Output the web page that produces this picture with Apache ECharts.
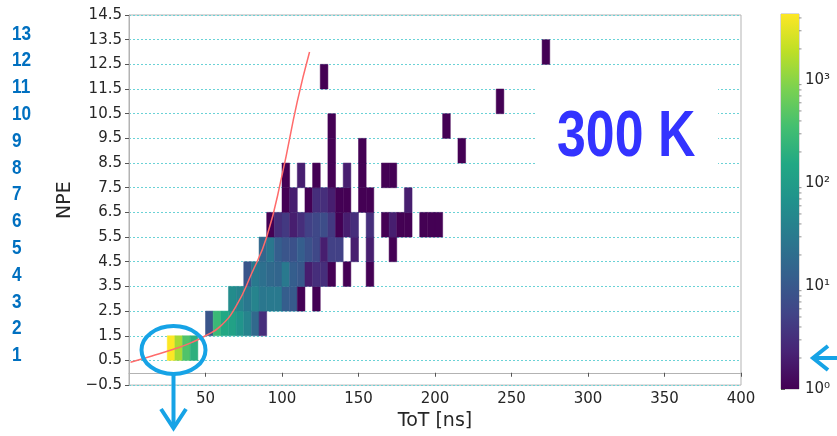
<!DOCTYPE html>
<html><head><meta charset="utf-8">
<script src="https://cdn.jsdelivr.net/npm/echarts@6/dist/echarts.min.js"></script>
<style>html,body{margin:0;padding:0;background:#fff}#c{width:837px;height:436px}</style>
</head><body><div id="c"></div>
<script>
// ---- data: [binStart (ns), counts] per NPE row, bin width 5 ns ----
const binWidth = 5;
const npe1  = [[25,4300],[30,1400],[35,420],[40,200]];
const npe2  = [[50,9],[55,280],[60,150],[65,120],[70,75],[75,43],[80,17],[85,3]];
const npe3  = [[65,55],[70,43],[75,28],[80,43],[85,28],[90,30],[95,30],[100,12],[105,11],[110,1],[120,1]];
const npe4  = [[75,9],[80,30],[85,22],[90,17],[95,15],[100,30],[105,12],[110,10],[115,2],[120,3],[125,3],[130,1],[140,1],[155,1]];
const npe5  = [[85,16],[90,28],[95,12],[100,9],[105,8],[110,12],[115,8],[120,6],[125,2],[130,5],[135,5],[145,2],[155,2],[170,1]];
const npe6  = [[90,1],[95,3],[100,4],[105,2],[110,3],[115,5],[120,6],[125,7],[130,4],[135,1],[140,2],[145,3],[155,3],[165,1],[170,2],[175,1],[180,1],[190,1],[195,1],[200,1]];
const npe7  = [[100,1],[105,2],[115,1],[120,3],[125,3],[130,2],[135,1],[140,1],[150,1],[155,1],[180,2]];
const npe8  = [[100,1],[110,2],[120,1],[130,1],[140,2],[150,1],[165,1],[170,1]];
const npe9  = [[130,1],[150,1],[215,1]];
const npe10 = [[130,1],[205,1]];
const npe11 = [[240,1]];
const npe12 = [[125,1]];
const npe13 = [[270,1]];
const npeRows = [npe1,npe2,npe3,npe4,npe5,npe6,npe7,npe8,npe9,npe10,npe11,npe12,npe13];

// red curve
const curveX = [1, 15, 30, 40, 50, 60, 70, 80, 90, 100, 110, 118];
const curveY = [0.43, 0.68, 0.97, 1.2, 1.5, 1.9, 2.7, 4.0, 5.5, 8.0, 11.0, 13.0];

// ticks
const xTicks = [50,100,150,200,250,300,350,400];
const yTicks = [-0.5,0.5,1.5,2.5,3.5,4.5,5.5,6.5,7.5,8.5,9.5,10.5,11.5,12.5,13.5,14.5];
const cbMax = 4365;
const cbMajor = [1,10,100,1000];
const cbMinor = [2,3,4,5,6,7,8,9,20,30,40,50,60,70,80,90,200,300,400,500,600,700,800,900,2000,3000,4000];
const sideLabels = ['1','2','3','4','5','6','7','8','9','10','11','12','13'];

const viridis = ['#440154','#482475','#414487','#355f8d','#2a788e','#21918c','#22a884','#44bf70','#7ad151','#bddf26','#fde725'];

// ---- build ----
const cells = [];
npeRows.forEach((r, i) => r.forEach(([x, c]) => cells.push([x, x + binWidth, i + 1, c, Math.log10(c)])));
const curve = curveX.map((x, i) => [x, curveY[i]]);
const cbTop = Math.log10(cbMax);
const sup = {0:'\u2070',1:'\u00b9',2:'\u00b2',3:'\u00b3'};
const txt = '#262626';
const font = 'DejaVu Sans';
const annBlue = '#0070c0';
const arrowBlue = '#16a3e6';

const chart = echarts.init(document.getElementById('c'), null, {renderer:'canvas'});
const gridColor = '#b3b3b3';

const graphic = [
  {type:'rect', z:1, shape:{x:536, y:70, width:182, height:116}, style:{fill:'#ffffff'}},
  {type:'text', z:10, x:557, y:138, scaleX:0.81, style:{text:'300 K', fill:'#3333ff', font:'bold 64px "Liberation Sans"', textAlign:'left', textVerticalAlign:'middle', align:'left', verticalAlign:'middle'}},
  {type:'ellipse', z:10, shape:{cx:173.5, cy:350, rx:32, ry:24}, style:{fill:'none', stroke:arrowBlue, lineWidth:4}},
  {type:'line', z:10, shape:{x1:173.5, y1:374, x2:173.5, y2:428}, style:{stroke:arrowBlue, lineWidth:4}},
  {type:'polyline', z:10, shape:{points:[[161,409],[173.5,428],[186,409]]}, style:{fill:'none', stroke:arrowBlue, lineWidth:4, lineJoin:'miter'}},
  {type:'polyline', z:10, shape:{points:[[828,346],[813,358],[828,370]]}, style:{fill:'none', stroke:arrowBlue, lineWidth:4}},
  {type:'line', z:10, shape:{x1:813, y1:358, x2:837, y2:358}, style:{stroke:arrowBlue, lineWidth:4}}
];
sideLabels.forEach((s, i) => {
  graphic.push({type:'text', z:10, x:12, y:355.5 - 26.8 * i, scaleX:0.82,
    style:{text:s, fill:annBlue, font:'bold 21px "Liberation Sans"', textAlign:'left', textVerticalAlign:'middle', align:'left', verticalAlign:'middle'}});
});

const option = {
  animation: false,
  backgroundColor: '#ffffff',
  grid: [
    {left:129, right:96, top:15, bottom:46, show:true, borderColor:gridColor, borderWidth:1, backgroundColor:'transparent'},
    {left:781, width:18, top:14, bottom:47, show:true, borderColor:gridColor, borderWidth:1, backgroundColor:'transparent'}
  ],
  xAxis: [
    {type:'value', gridIndex:0, min:0, max:400,
     axisLine:{show:true, lineStyle:{color:gridColor}},
     axisTick:{show:true, customValues:xTicks, length:4, lineStyle:{color:'#555'}},
     axisLabel:{customValues:xTicks, color:txt, fontSize:15, fontFamily:font, margin:7},
     splitLine:{show:false},
     name:'ToT [ns]', nameLocation:'middle', nameGap:23,
     nameTextStyle:{fontSize:19, color:txt, fontFamily:font}},
    {type:'value', gridIndex:1, min:0, max:1, show:false}
  ],
  yAxis: [
    {type:'value', gridIndex:0, min:-0.5, max:14.5,
     axisLine:{show:true, lineStyle:{color:gridColor}},
     axisTick:{show:true, customValues:yTicks, length:4, lineStyle:{color:'#555'}},
     axisLabel:{customValues:yTicks, color:txt, fontSize:15, fontFamily:font, margin:7,
       formatter: v => (v < 0 ? '\u2212' : '') + Math.abs(v).toFixed(1)},
     splitLine:{show:true, lineStyle:{color:'#6ad2d6', width:1, type:[2,2]}},
     name:'NPE', nameLocation:'middle', nameGap:48, nameRotate:90,
     nameTextStyle:{fontSize:19, color:txt, fontFamily:font}},
    {type:'value', gridIndex:1, min:0, max:cbTop, position:'right',
     axisLine:{show:false},
     axisTick:{show:true, customValues:cbMajor.map(Math.log10), length:4, lineStyle:{color:'#555'}},
     axisLabel:{customValues:cbMajor.map(Math.log10), color:txt, fontSize:15, fontFamily:font, margin:6,
       formatter: v => '10' + sup[Math.round(v)]},
     splitLine:{show:false}}
  ],
  visualMap: [{type:'continuous', show:false, seriesIndex:0, dimension:4, min:0, max:cbTop, inRange:{color:viridis}}],
  series: [
    {type:'custom', xAxisIndex:0, yAxisIndex:0, z:2, data:cells, encode:{x:[0,1], y:2},
     renderItem: (params, api) => {
       const p0 = api.coord([api.value(0), api.value(2) + 0.5]);
       const p1 = api.coord([api.value(1), api.value(2) - 0.5]);
       const col = api.visual('color');
       return {type:'rect', shape:{x:p0[0], y:p0[1], width:p1[0]-p0[0], height:p1[1]-p0[1]},
               style:{fill:col, stroke:col, lineWidth:0.5}};
     }},
    {type:'line', xAxisIndex:0, yAxisIndex:0, z:3, data:curve, smooth:true, symbol:'none',
     lineStyle:{color:'#ff6b6b', width:1.5}},
    {type:'custom', xAxisIndex:1, yAxisIndex:1, z:2, data:[[0, 0]],
     renderItem: (params, api) => {
       const p0 = api.coord([0, cbTop]);
       const p1 = api.coord([1, 0]);
       const stops = viridis.map((c, i) => ({offset: i / (viridis.length - 1), color: c}));
       const children = [{type:'rect', shape:{x:p0[0], y:p0[1], width:p1[0]-p0[0], height:p1[1]-p0[1]},
         style:{fill:{type:'linear', x:0, y:1, x2:0, y2:0, colorStops:stops}}}];
       cbMinor.forEach(v => {
         const q = api.coord([1, Math.log10(v)]);
         children.push({type:'line', shape:{x1:q[0], y1:q[1], x2:q[0]+2.5, y2:q[1]}, style:{stroke:'#777', lineWidth:0.8}});
       });
       return {type:'group', children};
     }}
  ],
  graphic: graphic
};
chart.setOption(option);
</script></body></html>
